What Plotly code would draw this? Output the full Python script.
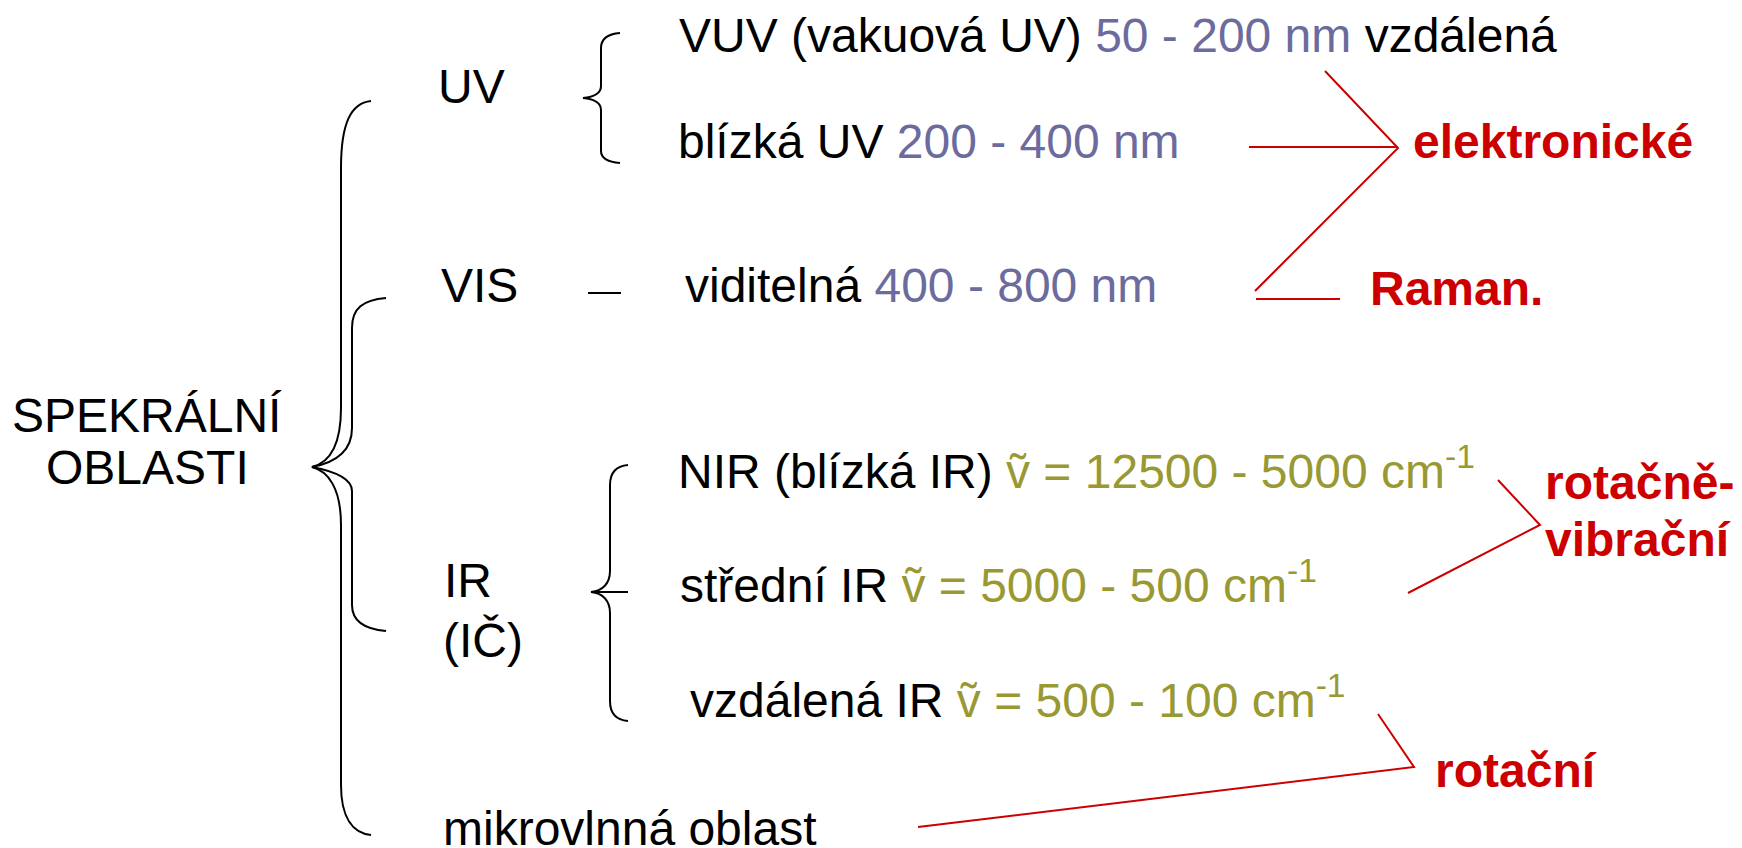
import plotly.graph_objects as go

# texts of the diagram
root_lines = ["SPEKRÁLNÍ", "OBLASTI"]
regions = ["UV", "VIS", "IR", "(IČ)", "mikrovlnná oblast"]
sub_names = ["VUV (vakuová UV)", "blízká UV", "viditelná",
             "NIR (blízká IR)", "střední IR", "vzdálená IR"]
sub_ranges = ["50 - 200 nm", "200 - 400 nm", "400 - 800 nm",
              "ṽ = 12500 - 5000 cm<sup>-1</sup>", "ṽ = 5000 - 500 cm<sup>-1</sup>",
              "ṽ = 500 - 100 cm<sup>-1</sup>"]
sub_suffix = [" vzdálená", "", "", "", "", ""]
transitions = ["elektronické", "Raman.", "rotačně-", "vibrační", "rotační"]

BLACK = "#000000"
NM_COL = "#6b6b9e"
WN_COL = "#999933"
RED = "#cc0000"
FONT = "Liberation Sans, Arial, sans-serif"
FS = 48

W, H = 1742, 848

fig = go.Figure()
fig.add_trace(go.Scatter(x=[0, W], y=[0, H], mode="markers", marker=dict(opacity=0),
                         hoverinfo="skip", showlegend=False))


def label(x, y, text, color=BLACK, anchor="left", bold=False):
    fig.add_annotation(
        x=x, y=y, text=("<b>%s</b>" % text) if bold else text,
        showarrow=False, xanchor=anchor, yanchor="middle",
        font=dict(family=FONT, size=FS, color=color),
    )


# left column
root_pos = [(139, 407), (139, 459)]
for (x, y), t in zip(root_pos, root_lines):
    label(x, y, t, anchor="center")

region_pos = [(428, 78), (431, 277), (434, 572), (433, 632), (433, 820)]
for (x, y), t in zip(region_pos, regions):
    label(x, y, t)

# sub-regions: name in black, range coloured
sub_pos = [(669, 27), (668, 133), (675, 277), (668, 460), (670, 574), (680, 689)]
for i, ((x, y), name) in enumerate(zip(sub_pos, sub_names)):
    col = NM_COL if i < 3 else WN_COL
    txt = name + " " + "<span style='color:%s'>%s</span>" % (col, sub_ranges[i]) + sub_suffix[i]
    label(x, y, txt)

trans_pos = [(1403, 133), (1360, 280), (1535, 474), (1535, 531), (1425, 762)]
for (x, y), t in zip(trans_pos, transitions):
    label(x, y, t, color=RED, bold=True)

# braces
braces = [
    "M 363 93 C 343 95 333 115 333 160 L 333 400 C 333 440 320 455 304 459 "
    "C 320 463 333 480 333 517 L 333 777 C 333 810 345 825 363 827",
    "M 378 290 C 355 292 344 300 344 320 L 344 420 C 344 445 325 455 304 459 "
    "C 325 463 344 470 344 483 L 344 597 C 344 612 355 621 378 623",
    "M 612 25 C 600 26 593 30 593 40 L 593 78 C 593 86 585 89 575 90 "
    "C 585 91 593 94 593 102 L 593 143 C 593 150 600 154 612 155",
    "M 620 457 C 608 458 602 465 602 477 L 602 563 C 602 576 594 583 583 584 "
    "C 594 585 602 592 602 605 L 602 693 C 602 705 608 712 620 713",
    "M 583 584 L 620 584",
    "M 580 285 L 613 285",
]
for p in braces:
    fig.add_shape(type="path", path=p, line=dict(color=BLACK, width=2), xref="x", yref="y")

# red connectors
links = [
    "M 1317 63 L 1390 140 L 1247 283",
    "M 1241 139 L 1390 139",
    "M 1248 291 L 1332 291",
    "M 1490 472 L 1532 517 L 1400 585",
    "M 1370 706 L 1406 759 L 910 819",
]
for p in links:
    fig.add_shape(type="path", path=p, line=dict(color=RED, width=2), xref="x", yref="y")

fig.update_xaxes(range=[0, W], visible=False, fixedrange=True)
fig.update_yaxes(range=[H, 0], visible=False, fixedrange=True)
fig.update_layout(
    width=W, height=H,
    margin=dict(l=0, r=0, t=0, b=0),
    paper_bgcolor="white", plot_bgcolor="white",
    showlegend=False,
)
fig.write_html("out.html")
